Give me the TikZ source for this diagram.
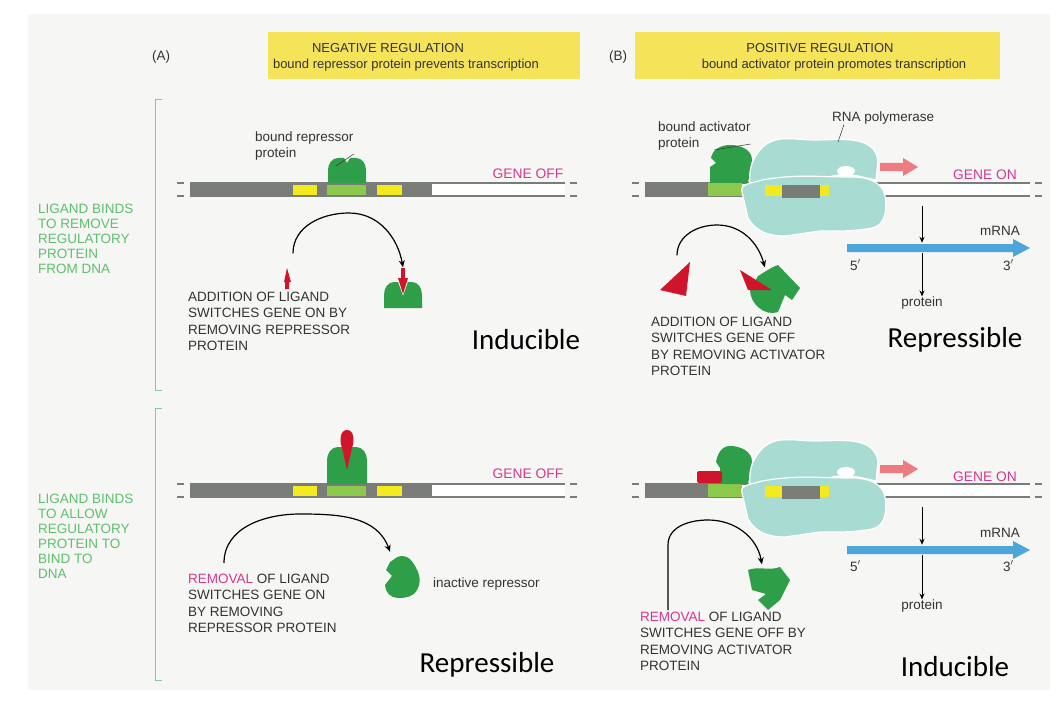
\documentclass[tikz,border=0pt]{standalone}
\usepackage{fontspec}
\setmainfont{Liberation Sans}
\newfontfamily\calib{Carlito}
\usetikzlibrary{arrows.meta}
\definecolor{hdr}{HTML}{F5E35A}
\definecolor{bg}{HTML}{F6F6F4}
\definecolor{txt}{HTML}{333333}
\definecolor{leaf}{HTML}{2E9E48}
\definecolor{lime}{HTML}{8CC84B}
\definecolor{dnag}{HTML}{7A7C78}
\definecolor{ylw}{HTML}{F2EA1E}
\definecolor{lig}{HTML}{D0142C}
\definecolor{pol}{HTML}{A8DCD2}
\definecolor{mag}{HTML}{D6378C}
\definecolor{sky}{HTML}{4DA6DA}
\definecolor{teal}{HTML}{7EC8C2}
\definecolor{salmon}{HTML}{EE7B80}
\definecolor{sidegreen}{HTML}{5FBF6E}

% DNA double line: x from, x to, top y
\newcommand\dnaline[3]{%
  \fill[white] (#1,#3) rectangle (#2,#3+13);
  \draw[dnaedge] (#1,#3) -- (#2,#3) (#1,#3+13) -- (#2,#3+13);
  \draw[dnaedge] (#1-13,#3) -- (#1-6,#3) (#1-13,#3+13) -- (#1-6,#3+13);
  \draw[dnaedge] (#2+5,#3) -- (#2+12,#3) (#2+5,#3+13) -- (#2+12,#3+13);}

\tikzset{
  lbl/.style={font=\fontsize{13.5}{16}\selectfont, text=txt, inner sep=0pt, align=left, anchor=west},
  head/.style={font=\fontsize{13}{15}\selectfont, text=txt, inner sep=0pt, anchor=center},
  caps/.style={font=\fontsize{13.5}{16.3}\selectfont, text=txt, inner sep=0pt, align=left, anchor=north west},
  sidelbl/.style={font=\fontsize{13.5}{15}\selectfont, text=sidegreen, inner sep=0pt, align=left, anchor=north west},
  big/.style={font=\calib\fontsize{29}{32}\selectfont, text=black, inner sep=0pt},
  gene/.style={font=\fontsize{13.8}{15}\selectfont, text=mag, inner sep=0pt},
  dnaedge/.style={draw=dnag, line width=1.2pt},
  swing/.style={-{Stealth[length=7pt,width=6pt]}, line width=1.2pt},
  downarr/.style={-{Stealth[length=6pt,width=5pt]}, line width=1pt},
  protein/.style={fill=leaf},
  ligand/.style={fill=lig},
  poly/.style={fill=pol, draw=white, line width=1.2pt},
}

\begin{document}
\begin{tikzpicture}[x=1pt,y=-1pt]
  \useasboundingbox (0,0) rectangle (1056,703);
  \fill[white] (0,0) rectangle (1056,703);
  \fill[bg] (28,14) rectangle (1050,690);

  % headers
  \fill[hdr] (268,32) rectangle (580,79);
  \fill[hdr] (635,32) rectangle (1000,79);
  \node[head] (hA) at (388,48) {NEGATIVE REGULATION};
  \node[head] (hA2) at (406,65) {bound repressor protein prevents transcription};
  \node[head] (hB) at (820,48) {POSITIVE REGULATION};
  \node[head] (hB2) at (834,65) {bound activator protein promotes transcription};
  \node[lbl] (pA) at (152,57) {(A)};
  \node[lbl] (pB) at (609,57) {(B)};

  % brackets and side labels
  \draw[teal, line width=1pt] (162,100) -- (155,100) -- (155,390) -- (162,390);
  \draw[teal, line width=1pt] (162,408) -- (155,408) -- (155,680) -- (162,680);
  \node[sidelbl] (sTop) at (38,204) {LIGAND BINDS\\TO REMOVE\\REGULATORY\\PROTEIN\\FROM DNA};
  \node[sidelbl] (sBot) at (38,494) {LIGAND BINDS\\TO ALLOW\\REGULATORY\\PROTEIN TO\\BIND TO\\DNA};

  % ---------- panel A, top ----------
  \dnaline{190}{565}{183}
  \fill[dnag] (190,183) rectangle (432,196);
  \fill[ylw] (293,185) rectangle (317,195);
  \fill[lime] (327,185) rectangle (366,195);
  \fill[ylw] (377,185) rectangle (402,195);
  \fill[protein] (328,183) -- (328,170) to[out=90,in=180] (338,158) -- (344,158) -- (347,163) -- (350,158) -- (356,158) to[out=0,in=90] (366,170) -- (366,183) -- cycle;
  \coordinate (repTop) at (336,166);
  \node[lbl] (repLbl) at (255,146) {bound repressor\\protein};
  \draw[txt, line width=0.5pt] (repLbl.east |- 0,154) -- (repTop);
  \node[gene] (offA) at (528,174) {GENE OFF};
  % ligand and repressor
  \fill[ligand] (284,282) -- (287,268) -- (291,282) -- (289,282) -- (289,289) -- (285,289) -- (285,282) -- cycle;
  \node[inner sep=0pt, minimum width=8pt] (ligA) at (288,268) {};
  \fill[protein] (384,308) -- (384,295) to[out=90,in=180] (394,282) -- (398,282) -- (403,296) -- (408,282) -- (412,282) to[out=0,in=90] (422,295) -- (422,308) -- cycle;
  \fill[ligand] (398,278) -- (408,278) -- (403,294) -- cycle;
  \fill[ligand] (401,268) rectangle (405,279);
  \node[inner sep=0pt, minimum width=10pt] (repA) at (403,268) {};
  \draw[swing] (ligA.north) ++(5,-14) coordinate (startA) to[out=90,in=180] (349,213) to[out=0,in=100] (repA.north);
  \node[caps] (capA) at (188,292) {ADDITION OF LIGAND\\SWITCHES GENE ON BY\\REMOVING REPRESSOR\\PROTEIN};
  \node[big] (indA) at (526,340) {Inducible};

  % ---------- panel A, bottom ----------
  \dnaline{190}{565}{484}
  \fill[dnag] (190,484) rectangle (432,497);
  \fill[ylw] (293,486) rectangle (317,496);
  \fill[lime] (327,486) rectangle (366,496);
  \fill[ylw] (377,486) rectangle (402,496);
  \fill[protein] (327,484) -- (327,460) to[out=90,in=180] (338,447) -- (342,447) -- (347,468) -- (352,447) -- (356,447) to[out=0,in=90] (367,460) -- (367,484) -- cycle;
  \fill[ligand] (347,470) -- (342,448) to[out=110,in=180] (347,430) to[out=0,in=70] (352,448) -- cycle;
  \node[gene] (offB) at (528,474) {GENE OFF};
  \coordinate (startB) at (224,563);
  \fill[protein] (390,562) to[out=30,in=180] (402,556) to[out=0,in=120] (415,566) to[out=-60,in=60] (417,590) to[out=-120,in=0] (398,598) to[out=180,in=-90] (385,585) -- (392,576) -- (386,570) -- cycle;
  \node[inner sep=0pt, minimum size=8pt] (inA) at (390,556) {};
  \draw[swing] (startB) to[out=90,in=180] (300,514) to[out=0,in=110] (inA.north);
  \node[lbl] (inLbl) at (433,584) {inactive repressor};
  \node[caps] (capB) at (188,574) {\textcolor{mag}{REMOVAL} OF LIGAND\\SWITCHES GENE ON\\BY REMOVING\\REPRESSOR PROTEIN};
  \node[big] (repB) at (487,665) {Repressible};

  % ---------- panel B, top ----------
  \dnaline{645}{1030}{183}
  \fill[dnag] (645,183) rectangle (710,196);
  \fill[lime] (708,183) rectangle (742,196);
  \fill[protein] (710,183) -- (710,167) -- (716,163) -- (711,158) to[out=80,in=180] (730,145) to[out=0,in=90] (752,160) -- (748,183) -- cycle;
  \fill[poly] (750,186) to[out=95,in=230] (760,150) to[out=50,in=180] (815,140) to[out=0,in=100] (878,160) -- (876,180) -- (858,176) to[out=170,in=10] (832,176) -- (826,186) -- cycle;
  \fill[white] (846,171) ellipse (9pt and 5pt);
  \fill[poly] (742,192) to[out=110,in=200] (762,180) to[out=10,in=180] (852,177) to[out=0,in=100] (885,196) to[out=-80,in=10] (872,228) to[out=190,in=0] (820,231) -- (785,236) to[out=180,in=-60] (748,218) -- cycle;
  \fill[ylw] (765,185) rectangle (782,196);
  \fill[dnag] (782,185) rectangle (820,198);
  \fill[ylw] (820,185) rectangle (829,196);
  \node[lbl] (actLbl) at (658,136) {bound activator\\protein};
  \draw[txt, line width=0.5pt] (actLbl.east |- 0,144) -- (714,150);
  \node[lbl] (polLbl) at (832,118) {RNA polymerase};
  \draw[txt, line width=0.5pt] (polLbl.south west) ++(12,0) -- (838,142);
  \fill[salmon] (880,163) -- (903,163) -- (903,158) -- (918,167) -- (903,176) -- (903,171) -- (880,171) -- cycle;
  \node[gene] (onA) at (985,175) {GENE ON};
  \node[inner sep=0pt] (geneA) at (922,205) {};
  \node[lbl, anchor=center] (mrnaA) at (1000,231) {mRNA};
  \fill[sky] (847,244) -- (1013,244) -- (1013,239) -- (1030,248) -- (1013,257) -- (1013,252) -- (847,252) -- cycle;
  \node[inner sep=0pt, minimum width=20pt, minimum height=10pt] (rnaA) at (922,248) {};
  \node[lbl] (fiveA) at (850,265) {5$'$};
  \node[lbl] (threeA) at (1003,265) {3$'$};
  \node[lbl, anchor=center] (protA) at (922,303) {protein};
  \draw[downarr] (geneA) -- (rnaA.north);
  \draw[downarr] (rnaA.south) -- (protA.north);
  \fill[ligand] (660,290) -- (690,262) -- (686,296) -- cycle;
  \node[inner sep=0pt] (ligB) at (677,256) {};
  \fill[protein] (758,276) to[out=30,in=200] (778,265) -- (800,288) -- (792,300) -- (785,295) -- (778,312) to[out=200,in=-90] (750,290) -- cycle;
  \fill[ligand] (740,270) -- (772,290) -- (748,290) -- cycle;
  \node[inner sep=0pt] (actA) at (765,268) {};
  \draw[swing] (ligB) to[out=90,in=180] (717,225) to[out=0,in=105] (actA);
  \node[caps] (capC) at (651,317) {ADDITION OF LIGAND\\SWITCHES GENE OFF\\BY REMOVING ACTIVATOR\\PROTEIN};
  \node[big] (repC) at (955,340) {Repressible};

  % ---------- panel B, bottom ----------
  \dnaline{645}{1030}{484}
  \fill[dnag] (645,484) rectangle (710,497);
  \fill[lime] (708,484) rectangle (742,497);
  \fill[protein] (720,484) -- (720,468) -- (716,462) to[out=80,in=180] (730,446) to[out=0,in=90] (752,462) -- (748,484) -- cycle;
  \fill[ligand, rounded corners=2pt] (697,471) rectangle (722,483);
  \fill[poly] (750,487) to[out=95,in=230] (760,451) to[out=50,in=180] (815,441) to[out=0,in=100] (878,461) -- (876,481) -- (858,477) to[out=170,in=10] (832,477) -- (826,487) -- cycle;
  \fill[white] (846,472) ellipse (9pt and 5pt);
  \fill[poly] (742,493) to[out=110,in=200] (762,481) to[out=10,in=180] (852,478) to[out=0,in=100] (885,497) to[out=-80,in=10] (872,529) to[out=190,in=0] (820,532) -- (785,537) to[out=180,in=-60] (748,519) -- cycle;
  \fill[ylw] (765,486) rectangle (782,497);
  \fill[dnag] (782,486) rectangle (820,499);
  \fill[ylw] (820,486) rectangle (829,497);
  \fill[salmon] (880,465) -- (903,465) -- (903,460) -- (918,469) -- (903,478) -- (903,473) -- (880,473) -- cycle;
  \node[gene] (onB) at (985,477) {GENE ON};
  \node[inner sep=0pt] (geneB) at (922,506) {};
  \node[lbl, anchor=center] (mrnaB) at (1000,533) {mRNA};
  \fill[sky] (847,546) -- (1013,546) -- (1013,541) -- (1030,550) -- (1013,559) -- (1013,554) -- (847,554) -- cycle;
  \node[inner sep=0pt, minimum width=20pt, minimum height=10pt] (rnaB) at (922,550) {};
  \node[lbl] (fiveB) at (850,566) {5$'$};
  \node[lbl] (threeB) at (1003,566) {3$'$};
  \node[lbl, anchor=center] (protB) at (922,606) {protein};
  \draw[downarr] (geneB) -- (rnaB.north);
  \draw[downarr] (rnaB.south) -- (protB.north);
  \coordinate (startD) at (668,610);
  \fill[protein] (748,570) to[out=20,in=200] (780,567) -- (790,580) -- (780,600) -- (768,610) -- (758,600) -- (766,594) -- (752,590) -- cycle;
  \node[inner sep=0pt] (actB) at (762,565) {};
  \draw[swing] (startD) -- (668,545) to[out=90,in=180] (708,520) to[out=0,in=100] (actB);
  \node[caps] (capD) at (640,612) {\textcolor{mag}{REMOVAL} OF LIGAND\\SWITCHES GENE OFF BY\\REMOVING ACTIVATOR\\PROTEIN};
  \node[big] (indD) at (955,667) {Inducible};
\end{tikzpicture}
\end{document}
